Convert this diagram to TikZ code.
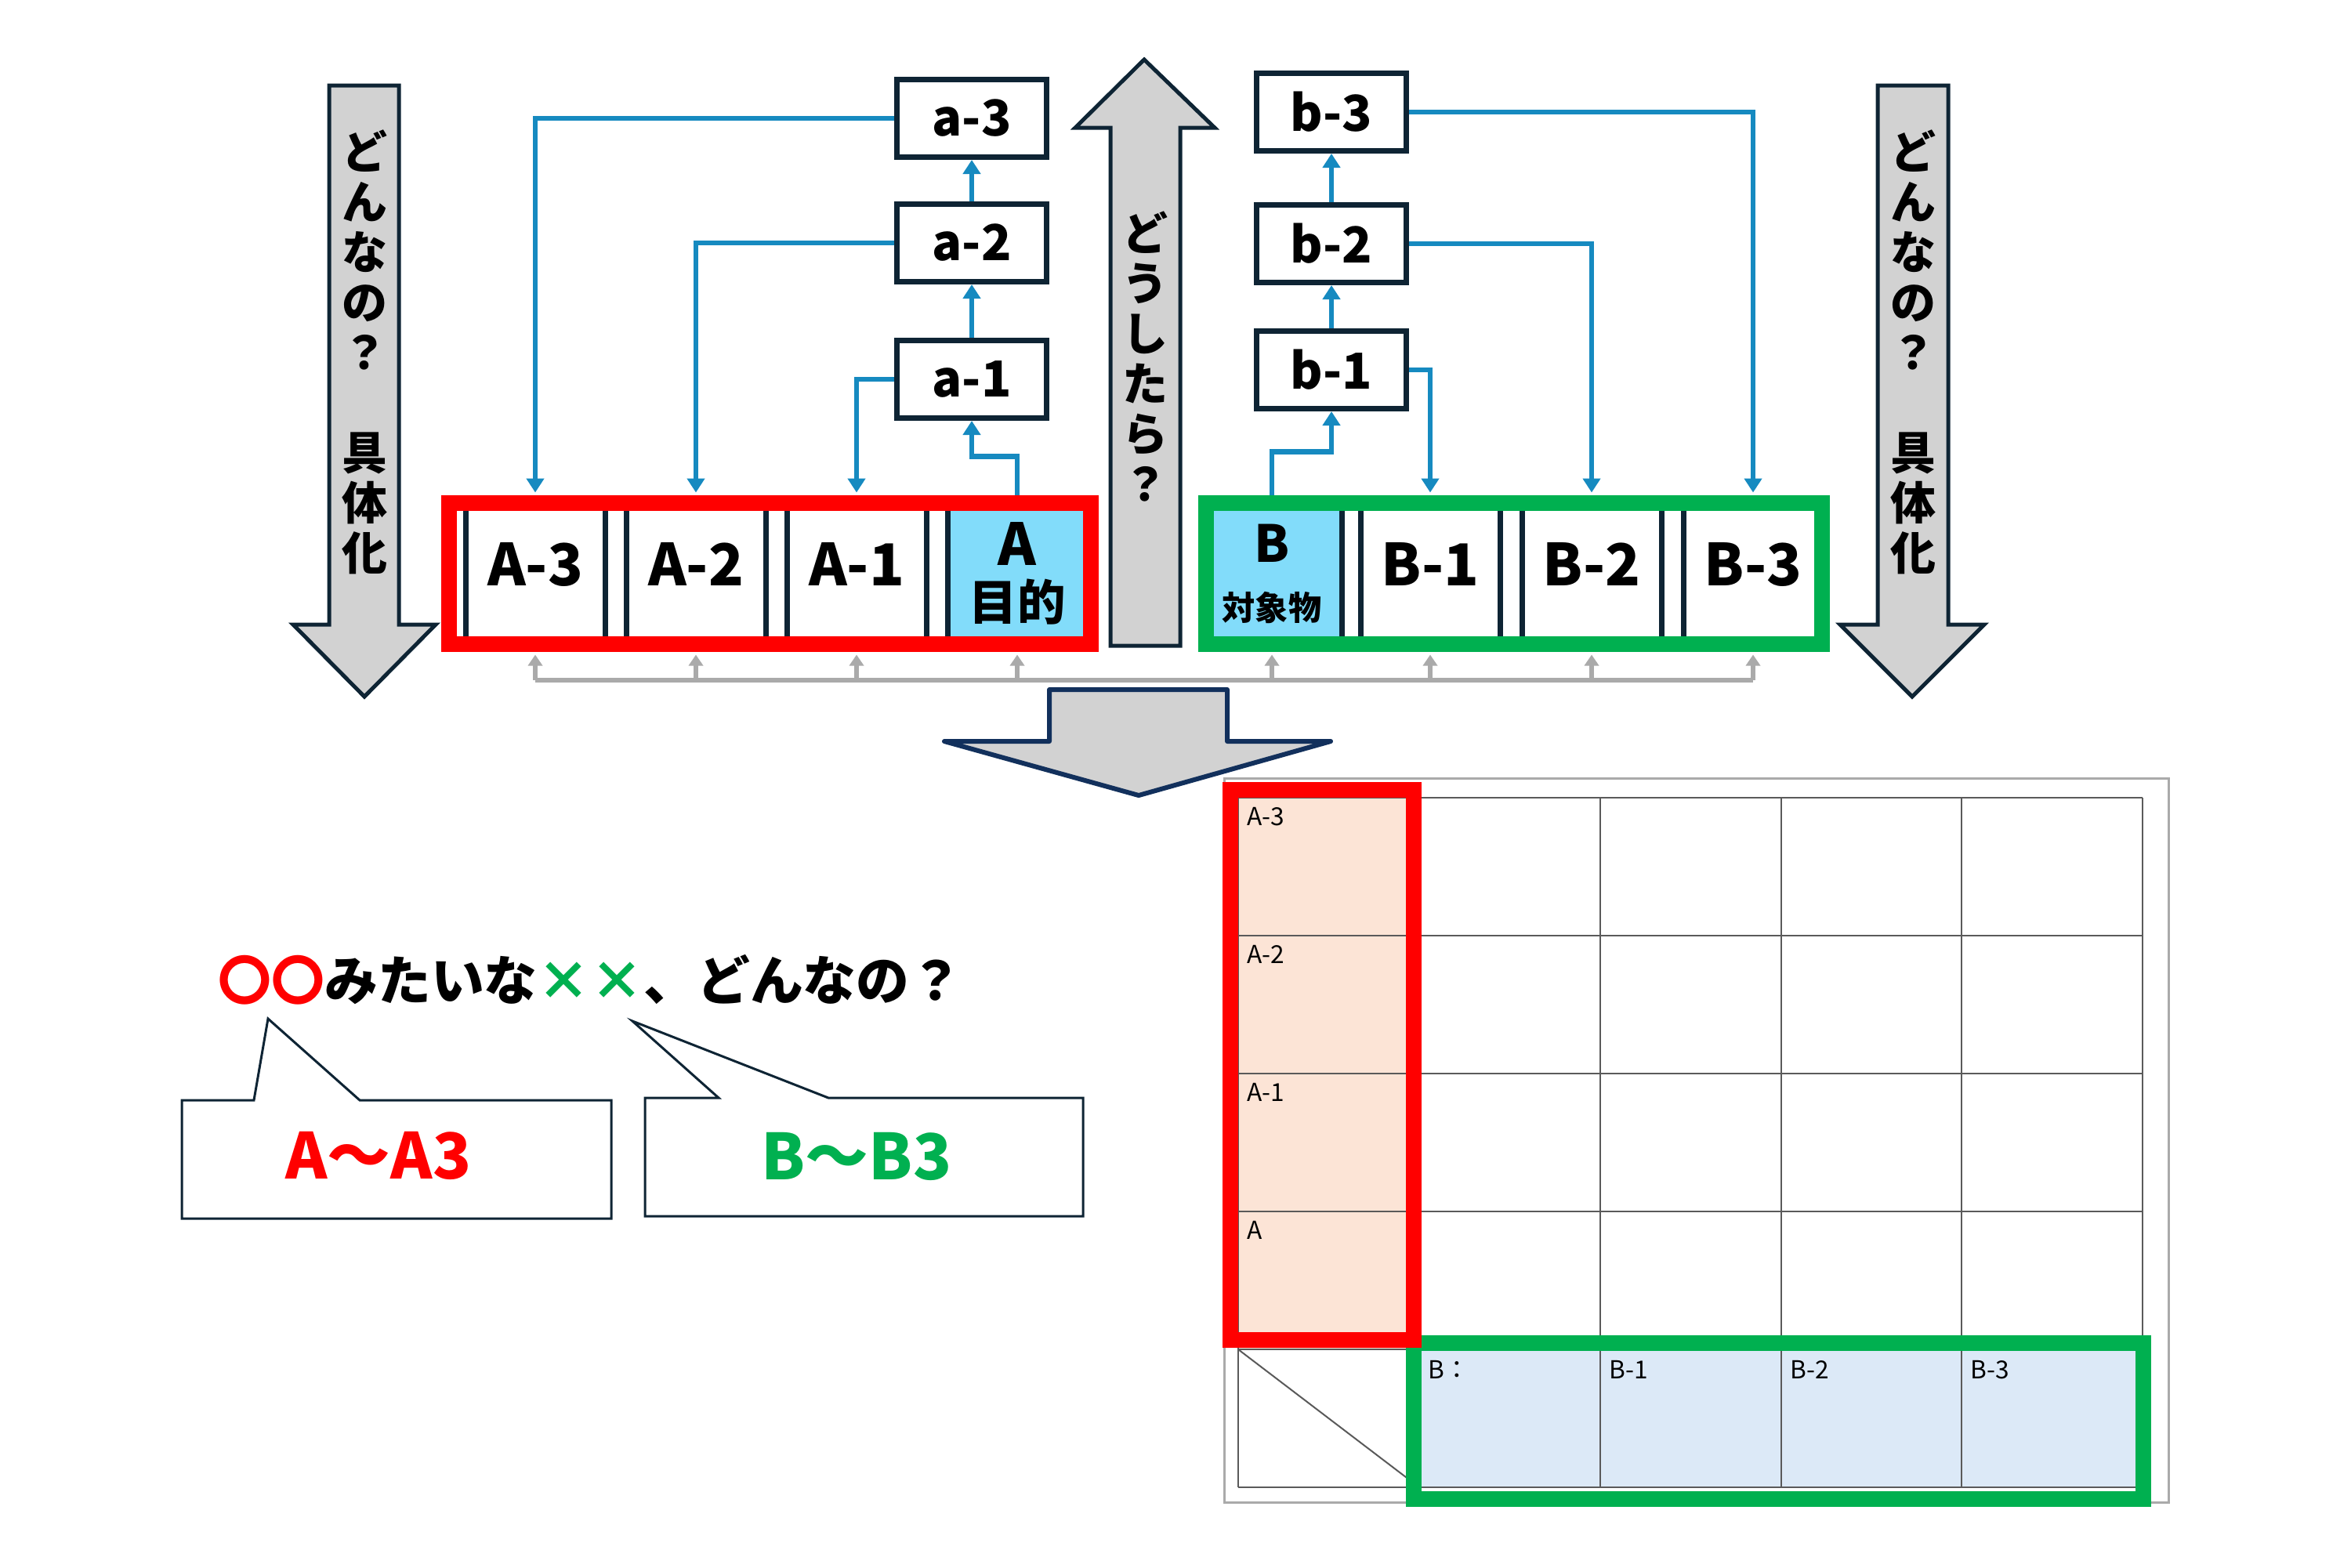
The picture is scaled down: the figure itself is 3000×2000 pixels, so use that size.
\documentclass[tikz,border=0pt]{standalone}
\usepackage{fontspec}
\usetikzlibrary{arrows.meta}
\newfontfamily\jp{Noto Sans CJK JP}
\definecolor{navy}{RGB}{14,36,52}
\definecolor{linkblue}{RGB}{22,138,192}
\definecolor{goalblue}{RGB}{130,220,250}
\definecolor{arrowgray}{RGB}{210,210,210}
\definecolor{feedgray}{RGB}{170,170,170}
\definecolor{framegreen}{RGB}{0,176,80}
\definecolor{salmon}{RGB}{252,228,214}
\definecolor{paleblue}{RGB}{220,233,247}
\definecolor{blockblue}{RGB}{18,48,92}
\definecolor{gridgray}{RGB}{90,90,90}

\begin{document}
\begin{tikzpicture}[x=0.1mm,y=-0.1mm,
    cellbox/.style={draw=navy,line width=0.7mm,fill=white,minimum width=17.8mm,minimum height=18mm,inner sep=0pt,align=center,font=\jp\bfseries\fontsize{21pt}{23pt}\selectfont},
    box/.style={cellbox,text height=5.2mm,text depth=2.2mm},
    goal/.style={cellbox,fill=goalblue},
    sub/.style={draw=navy,line width=0.7mm,fill=white,minimum width=19.1mm,minimum height=9.9mm,inner sep=0pt,font=\jp\bfseries\fontsize{18pt}{20pt}\selectfont},
    link/.style={draw=linkblue,line width=0.65mm,-{Triangle[width=2.2mm,length=1.8mm]}},
    feed/.style={draw=feedgray,line width=0.6mm,-{Triangle[width=1.8mm,length=1.4mm]},shorten >=1mm},
    bigarrow/.style={draw=navy,line width=0.5mm,fill=arrowgray},
    vtext/.style={align=center,inner sep=0pt,font=\jp\bfseries\fontsize{16.5pt}{18.2pt}\selectfont},
    callout/.style={draw=navy,line width=0.3mm,fill=white},
    answer/.style={inner sep=0pt,font=\jp\bfseries\fontsize{23pt}{25pt}\selectfont},
    cell/.style={anchor=north west,inner sep=0pt,font=\jp\fontsize{9pt}{10pt}\selectfont}]
    \useasboundingbox (0,0) rectangle (3000,2000);

    \draw[bigarrow] (420,109) -- (509,109) -- (509,797) -- (556,797) -- (465,889) -- (374,797) -- (420,797) -- cycle;
    \draw[bigarrow] (2396,109) -- (2486,109) -- (2486,797) -- (2532,797) -- (2440,889) -- (2348,797) -- (2396,797) -- cycle;
    \draw[bigarrow] (1417,824) -- (1506,824) -- (1506,163) -- (1550,163) -- (1460,76) -- (1372,163) -- (1417,163) -- cycle;
    \node[vtext] (concreteL) at (465,449) {ど\\ん\\な\\の\\？\\[6.4mm]具\\体\\化};
    \node[vtext] (concreteR) at (2441,449) {ど\\ん\\な\\の\\？\\[6.4mm]具\\体\\化};
    \node[vtext] (howto) at (1461,455) {ど\\う\\し\\た\\ら\\？};

    \node[box] (A3) at (683,732) {A-3};
    \node[box] (A2) at (888,732) {A-2};
    \node[box] (A1) at (1093,732) {A-1};
    \node[goal] (A) at (1298,732) {A\\[-3pt]{\fontsize{17.5pt}{20pt}\selectfont 目的}};
    \node[goal] (B) at (1623,732) {{\fontsize{18.5pt}{20pt}\selectfont B}\\[-2pt]{\fontsize{12pt}{14pt}\selectfont 対象物}};
    \node[box] (B1) at (1825,732) {B-1};
    \node[box] (B2) at (2031,732) {B-2};
    \node[box] (B3) at (2237,732) {B-3};

    \node[sub] (a1) at (1240,484) {a-1};
    \node[sub] (a2) at (1240,310) {a-2};
    \node[sub] (a3) at (1240,151) {a-3};
    \node[sub] (b1) at (1699,472) {b-1};
    \node[sub] (b2) at (1699,311) {b-2};
    \node[sub] (b3) at (1699,143) {b-3};

    \draw[link] (A.north) -- ++(0,-56) -| (a1.south);
    \draw[link] (a1.north) -- (a2.south);
    \draw[link] (a2.north) -- (a3.south);
    \draw[link,shorten >=1mm] (a1.west) -| (A1.north);
    \draw[link,shorten >=1mm] (a2.west) -| (A2.north);
    \draw[link,shorten >=1mm] (a3.west) -| (A3.north);
    \draw[link] (B.north) -- ++(0,-62) -| (b1.south);
    \draw[link] (b1.north) -- (b2.south);
    \draw[link] (b2.north) -- (b3.south);
    \draw[link,shorten >=1mm] (b1.east) -| (B1.north);
    \draw[link,shorten >=1mm] (b2.east) -| (B2.north);
    \draw[link,shorten >=1mm] (b3.east) -| (B3.north);

    \coordinate (bus) at (0,868);
    \draw[feedgray,line width=0.6mm] (A3.south |- bus) -- (B3.south |- bus);
    \foreach \n in {A3,A2,A1,A,B,B1,B2,B3}
        \draw[feed] (\n.south |- bus) -- (\n.south);

    \draw[red,line width=2mm] (573,642) rectangle (1392,822);
    \draw[framegreen,line width=2mm] (1539,642) rectangle (2325,822);

    \draw[draw=blockblue,line width=0.6mm,fill=arrowgray,line join=round] (1339,880) -- (1566,880) -- (1566,946) -- (1698,946) -- (1453,1015) -- (1205,946) -- (1339,946) -- cycle;

    \node[anchor=west,inner sep=0pt,font=\jp\bfseries\fontsize{19.3pt}{21pt}\selectfont] (ask) at (278,1250) {\textcolor{red}{〇〇}みたいな\textcolor{framegreen}{××}、どんなの？};
    \draw[callout] (232,1404) -- (324,1404) -- (342,1300) -- (459,1404) -- (780,1404) -- (780,1555) -- (232,1555) -- cycle;
    \draw[callout] (823,1401) -- (917,1401) -- (807,1303) -- (1057,1401) -- (1382,1401) -- (1382,1552) -- (823,1552) -- cycle;
    \node[answer,text=red] (ansA) at (483,1475) {A～A3};
    \node[answer,text=framegreen] (ansB) at (1093,1476) {B～B3};

    \fill[salmon] (1580,1018) rectangle (1811,1722);
    \fill[paleblue] (1811,1722) rectangle (2734,1898);
    \foreach \x in {1580,1811,2042,2273,2503,2734}
        \draw[gridgray,line width=0.2mm] (\x,1018) -- (\x,1898);
    \foreach \y in {1018,1194,1370,1546,1722,1898}
        \draw[gridgray,line width=0.2mm] (1580,\y) -- (2734,\y);
    \draw[gridgray,line width=0.2mm] (1580,1722) -- (1811,1898);
    \draw[feedgray,line width=0.3mm] (1562,993) rectangle (2767,1917);
    \node[cell] (tA3) at (1591,1030) {A-3};
    \node[cell] (tA2) at (1591,1206) {A-2};
    \node[cell] (tA1) at (1591,1382) {A-1};
    \node[cell] (tA) at (1591,1558) {A};
    \node[cell] (tB) at (1822,1736) {B：};
    \node[cell] (tB1) at (2053,1736) {B-1};
    \node[cell] (tB2) at (2284,1736) {B-2};
    \node[cell] (tB3) at (2514,1736) {B-3};
    \draw[framegreen,line width=2mm] (1804,1714) rectangle (2735,1913);
    \draw[red,line width=2mm] (1570,1008) rectangle (1804,1710);
\end{tikzpicture}
\end{document}
